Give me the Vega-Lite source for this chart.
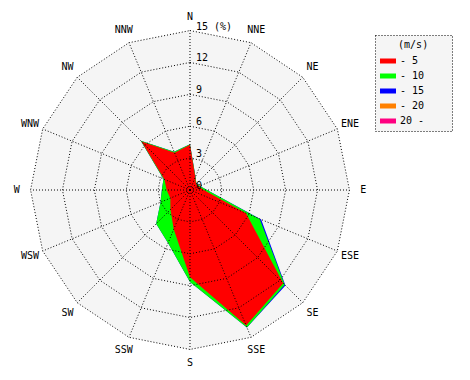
{
  "$schema": "https://vega.github.io/schema/vega-lite/v6.json",
  "width": 470,
  "height": 380,
  "padding": 0,
  "autosize": {"type": "none"},
  "background": "white",
  "config": {"view": {"stroke": null}, "font": "DejaVu Sans Mono"},
  "datasets": {
    "rose": [
      {"dir": "N", "a": 0, "s5": 4.25, "s10": 4.3, "s15": 4.3},
      {"dir": "NNE", "a": 22.5, "s5": 1.3, "s10": 1.35, "s15": 1.35},
      {"dir": "NE", "a": 45, "s5": 0.8, "s10": 0.85, "s15": 0.85},
      {"dir": "ENE", "a": 67.5, "s5": 0.9, "s10": 1.0, "s15": 1.0},
      {"dir": "E", "a": 90, "s5": 1.3, "s10": 1.6, "s15": 1.6},
      {"dir": "ESE", "a": 112.5, "s5": 5.7, "s10": 7.1, "s15": 7.25},
      {"dir": "SE", "a": 135, "s5": 12.4, "s10": 12.6, "s15": 12.7},
      {"dir": "SSE", "a": 157.5, "s5": 13.8, "s10": 14.0, "s15": 14.0},
      {"dir": "S", "a": 180, "s5": 8.2, "s10": 8.65, "s15": 8.65},
      {"dir": "SSW", "a": 202.5, "s5": 4.0, "s10": 5.4, "s15": 5.4},
      {"dir": "SW", "a": 225, "s5": 2.6, "s10": 4.5, "s15": 4.5},
      {"dir": "WSW", "a": 247.5, "s5": 2.0, "s10": 3.0, "s15": 3.0},
      {"dir": "W", "a": 270, "s5": 2.2, "s10": 2.65, "s15": 2.65},
      {"dir": "WNW", "a": 292.5, "s5": 2.6, "s10": 2.7, "s15": 2.7},
      {"dir": "NW", "a": 315, "s5": 6.45, "s10": 6.55, "s15": 6.55},
      {"dir": "NNW", "a": 337.5, "s5": 3.8, "s10": 3.9, "s15": 3.9}
    ],
    "rings": [
      {"lv": 0, "lab": "0", "a": [0, 22.5, 45, 67.5, 90, 112.5, 135, 157.5, 180, 202.5, 225, 247.5, 270, 292.5, 315, 337.5]},
      {"lv": 3, "lab": "3", "a": [0, 22.5, 45, 67.5, 90, 112.5, 135, 157.5, 180, 202.5, 225, 247.5, 270, 292.5, 315, 337.5]},
      {"lv": 6, "lab": "6", "a": [0, 22.5, 45, 67.5, 90, 112.5, 135, 157.5, 180, 202.5, 225, 247.5, 270, 292.5, 315, 337.5]},
      {"lv": 9, "lab": "9", "a": [0, 22.5, 45, 67.5, 90, 112.5, 135, 157.5, 180, 202.5, 225, 247.5, 270, 292.5, 315, 337.5]},
      {"lv": 12, "lab": "12", "a": [0, 22.5, 45, 67.5, 90, 112.5, 135, 157.5, 180, 202.5, 225, 247.5, 270, 292.5, 315, 337.5]},
      {"lv": 15, "lab": "15 (%)", "a": [0, 22.5, 45, 67.5, 90, 112.5, 135, 157.5, 180, 202.5, 225, 247.5, 270, 292.5, 315, 337.5]}
    ]
  },
  "encoding": {
    "x": {"field": "x", "type": "quantitative", "scale": {"domain": [-17.874, 26.341], "nice": false, "zero": false}, "axis": null},
    "y": {"field": "y", "type": "quantitative", "scale": {"domain": [-17.874, 17.874], "nice": false, "zero": false}, "axis": null}
  },
  "layer": [
    {
      "data": {"name": "rose"},
      "transform": [
        {"calculate": "15*sin(datum.a*PI/180)", "as": "x"},
        {"calculate": "15*cos(datum.a*PI/180)", "as": "y"}
      ],
      "mark": {"type": "line", "filled": true, "fill": "#f5f5f5", "interpolate": "linear-closed"},
      "encoding": {"order": {"field": "a", "type": "quantitative"}}
    },
    {
      "data": {"name": "rose"},
      "transform": [
        {"calculate": "datum.s15*sin(datum.a*PI/180)", "as": "x"},
        {"calculate": "datum.s15*cos(datum.a*PI/180)", "as": "y"}
      ],
      "mark": {"type": "line", "filled": true, "interpolate": "linear-closed"},
      "encoding": {"order": {"field": "a", "type": "quantitative"}, "color": {"datum": "- 15", "type": "nominal"}}
    },
    {
      "data": {"name": "rose"},
      "transform": [
        {"calculate": "datum.s10*sin(datum.a*PI/180)", "as": "x"},
        {"calculate": "datum.s10*cos(datum.a*PI/180)", "as": "y"}
      ],
      "mark": {"type": "line", "filled": true, "interpolate": "linear-closed"},
      "encoding": {"order": {"field": "a", "type": "quantitative"}, "color": {"datum": "- 10", "type": "nominal"}}
    },
    {
      "data": {"name": "rose"},
      "transform": [
        {"calculate": "datum.s5*sin(datum.a*PI/180)", "as": "x"},
        {"calculate": "datum.s5*cos(datum.a*PI/180)", "as": "y"}
      ],
      "mark": {"type": "line", "filled": true, "interpolate": "linear-closed"},
      "encoding": {
        "order": {"field": "a", "type": "quantitative"},
        "color": {
          "datum": "- 5",
          "type": "nominal",
          "scale": {"domain": ["- 5", "- 10", "- 15", "- 20", "20 -"], "range": ["#ff0000", "#00ff00", "#0000ff", "#ff8000", "#ff0080"]},
          "legend": {
            "title": "\u200b\u00a0\u00a0\u00a0(m/s)\u00a0\u00a0\u00a0\u200b",
            "orient": "none",
            "legendX": 375,
            "legendY": 35,
            "fillColor": "#f5f5f5",
            "strokeColor": "black",
            "padding": 5,
            "titleFont": "DejaVu Sans Mono",
            "titleFontSize": 10,
            "titleFontWeight": "normal",
            "titleAnchor": "start",
            "titlePadding": 6,
            "labelFont": "DejaVu Sans Mono",
            "labelFontSize": 10,
            "labelColor": "black",
            "titleColor": "black",
            "symbolType": "M-1,-0.5H2.2V0.5H-1Z",
            "symbolSize": 100,
            "symbolStrokeWidth": 0,
            "symbolOpacity": 1,
            "rowPadding": 5,
            "labelOffset": 10,
            "encode": {"legend": {"update": {"strokeDash": {"value": [1, 2]}}}}
          }
        }
      }
    },
    {
      "data": {"name": "rings"},
      "transform": [
        {"flatten": ["a"]},
        {"calculate": "datum.lv*sin(datum.a*PI/180)", "as": "x"},
        {"calculate": "datum.lv*cos(datum.a*PI/180)", "as": "y"}
      ],
      "mark": {"type": "line", "interpolate": "linear-closed", "stroke": "black", "strokeWidth": 1, "strokeDash": [1, 2]},
      "encoding": {"order": {"field": "a", "type": "quantitative"}, "detail": {"field": "lv", "type": "nominal"}}
    },
    {
      "data": {"name": "rose"},
      "transform": [
        {"calculate": "15*sin(datum.a*PI/180)", "as": "x"},
        {"calculate": "15*cos(datum.a*PI/180)", "as": "y"}
      ],
      "mark": {"type": "rule", "stroke": "black", "strokeWidth": 1, "strokeDash": [1, 2]},
      "encoding": {"x": {"datum": 0}, "y": {"datum": 0}, "x2": {"field": "x"}, "y2": {"field": "y"}}
    },
    {
      "data": {"name": "rose"},
      "transform": [
        {"calculate": "16.3*sin(datum.a*PI/180)", "as": "x"},
        {"calculate": "16.3*cos(datum.a*PI/180)", "as": "y"}
      ],
      "mark": {"type": "text", "font": "DejaVu Sans Mono", "fontSize": 10, "color": "black", "align": "center", "baseline": "middle"},
      "encoding": {"text": {"field": "dir"}}
    },
    {
      "data": {"name": "rings"},
      "transform": [
        {"calculate": "0", "as": "x"},
        {"calculate": "datum.lv", "as": "y"}
      ],
      "mark": {"type": "text", "font": "DejaVu Sans Mono", "fontSize": 10, "color": "black", "align": "left", "baseline": "middle", "dx": 6, "dy": -4},
      "encoding": {"text": {"field": "lab"}}
    }
  ]
}
